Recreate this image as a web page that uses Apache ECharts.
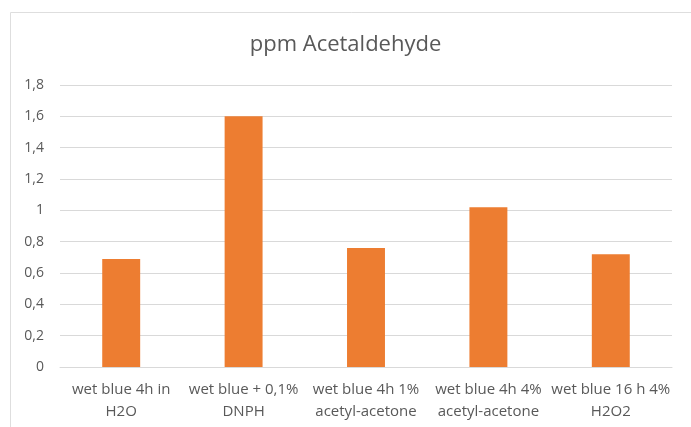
<!DOCTYPE html>
<html>
<head>
<meta charset="utf-8">
<script src="https://cdn.jsdelivr.net/npm/echarts@6/dist/echarts.min.js"></script>
<style>
  html, body { margin: 0; padding: 0; background: #fff; }
  #chart { width: 691px; height: 427px; }
</style>
</head>
<body>
<div id="chart"></div>
<script>
// ppm Acetaldehyde — single-series column chart
const categories = [
  'wet blue 4h in\nH2O',
  'wet blue + 0,1%\nDNPH',
  'wet blue 4h 1%\nacetyl-acetone',
  'wet blue 4h 4%\nacetyl-acetone',
  'wet blue 16 h 4%\nH2O2',
];
const values = [0.69, 1.6, 0.76, 1.02, 0.72];
const yTicks = [0, 0.2, 0.4, 0.6, 0.8, 1, 1.2, 1.4, 1.6, 1.8];

const axisClr = '#595959';
const gridClr = '#d9d9d9';
const barClr  = '#ED7D31';
const font    = '"Open Sans", Lato, sans-serif';

const chart = echarts.init(document.getElementById('chart'), null, { renderer: 'canvas' });

chart.setOption({
  backgroundColor: '#fff',
  animation: false,
  textStyle: { fontFamily: font },
  graphic: [{
    type: 'rect', silent: true,
    shape: { x: 10.5, y: 12.5, width: 700, height: 440 },
    style: { fill: 'none', stroke: '#dedede', lineWidth: 1 },
  }],
  title: {
    text: 'ppm Acetaldehyde', left: 'center', top: 29,
    textStyle: { color: axisClr, fontSize: 22, fontWeight: 'normal', fontFamily: font },
  },
  grid: { left: 60, right: 19, top: 85, bottom: 60 },
  xAxis: {
    type: 'category', data: categories,
    axisLine: { lineStyle: { color: gridClr } }, axisTick: { show: false },
    axisLabel: { color: axisClr, fontSize: 15, lineHeight: 22, margin: 12, interval: 0, fontFamily: font },
  },
  yAxis: {
    type: 'value', min: 0, max: 1.8, interval: 0.2,
    axisLine: { show: false }, axisTick: { show: false },
    axisLabel: {
      color: axisClr, fontSize: 14, margin: 16, fontFamily: font,
      formatter: v => {
        const t = yTicks.find(x => Math.abs(x - v) < 1e-6);
        return String(+(t ?? v).toFixed(1)).replace('.', ',');
      },
    },
    splitLine: { lineStyle: { color: gridClr } },
  },
  series: [{
    type: 'bar', data: values, barWidth: '31%',
    itemStyle: { color: barClr },
  }],
});
</script>
</body>
</html>
